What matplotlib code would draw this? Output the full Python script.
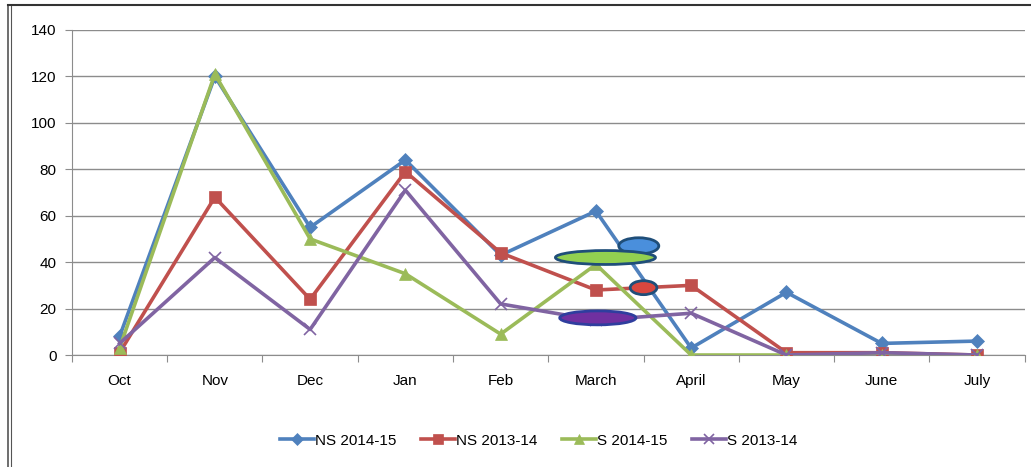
import matplotlib
matplotlib.use("Agg")
import matplotlib.pyplot as plt
from matplotlib.patches import Ellipse
from matplotlib.lines import Line2D

months = ["Oct", "Nov", "Dec", "Jan", "Feb", "March", "April", "May", "June", "July"]
ns_2014 = [8, 120, 55, 84, 43, 62, 3, 27, 5, 6]
ns_2013 = [1, 68, 24, 79, 44, 28, 30, 1, 1, 0]
s_2014 = [3, 121, 50, 35, 9, 39, 0, 0, 0, 0]
s_2013 = [5, 42, 11, 71, 22, 15, 18, 0, 1, 0]
y_ticks = [0, 20, 40, 60, 80, 100, 120, 140]

# highlight ellipses near March: (x, y, width, height, face, edge)
blobs = [
    (5.45, 47, 0.42, 7, "#4a8fdc", "#1f4e79"),
    (5.1, 42, 1.05, 6, "#92d050", "#1f4e79"),
    (5.5, 29, 0.28, 6, "#d9473f", "#1f4e79"),
    (5.02, 16, 0.8, 6, "#7030a0", "#2f3e9e"),
]

plt.rcParams["font.family"] = ["Liberation Sans", "DejaVu Sans"]

fig = plt.figure(figsize=(10.31, 4.67), dpi=100)
ax = fig.add_axes([0.0698, 0.2398, 0.924, 0.696])

series = [
    ("NS 2014-15", ns_2014, "#4F81BD", "D", 7),
    ("NS 2013-14", ns_2013, "#C0504D", "s", 8),
    ("S 2014-15", s_2014, "#9BBB59", "^", 8),
    ("S 2013-14", s_2013, "#8064A2", "x", 8),
]
x = list(range(len(months)))
for label, vals, col, mk, ms in series:
    ax.plot(x, vals, color=col, lw=2.6, marker=mk, markersize=ms,
            markeredgewidth=1.2 if mk == "x" else 0.5,
            markeredgecolor=col, label=label, zorder=3)

for bx, by, bw, bh, fc, ec in blobs:
    ax.add_patch(Ellipse((bx, by), bw, bh, facecolor=fc, edgecolor=ec, lw=2, zorder=4))

ax.set_xlim(-0.5, len(months) - 0.5)
ax.set_ylim(0, 140)
ax.set_yticks(y_ticks)
ax.yaxis.grid(True, color="#8c8c8c", lw=1)
ax.set_axisbelow(True)
ax.set_xticks([i - 0.5 for i in range(len(months) + 1)])
ax.set_xticklabels([])
ax.set_xticks(x, minor=True)
ax.set_xticklabels(months, minor=True)
ax.tick_params(axis="x", which="minor", length=0, pad=14, labelsize=11)
ax.tick_params(axis="x", which="major", length=5, color="#8c8c8c", direction="out")
ax.tick_params(axis="y", length=5, color="#8c8c8c", labelsize=11, pad=6)
for s in ["top", "right"]:
    ax.spines[s].set_visible(False)
ax.spines["left"].set_color("#8c8c8c")
ax.spines["bottom"].set_color("#8c8c8c")

ax.legend(loc="upper center", bbox_to_anchor=(0.49, -0.2), ncol=4, frameon=False,
          fontsize=11, handlelength=2.2, columnspacing=1.6, handletextpad=0.1,
          markerscale=0.9)

# outer frame of the pasted chart
fig.add_artist(Line2D([0.008, 0.008], [0, 0.99], color="#555555", lw=1.2))
fig.add_artist(Line2D([0.011, 0.011], [0, 0.99], color="#555555", lw=0.8))
fig.add_artist(Line2D([0.008, 1.0], [0.99, 0.99], color="#333333", lw=1.5))

fig.savefig("out.png", dpi=100)
